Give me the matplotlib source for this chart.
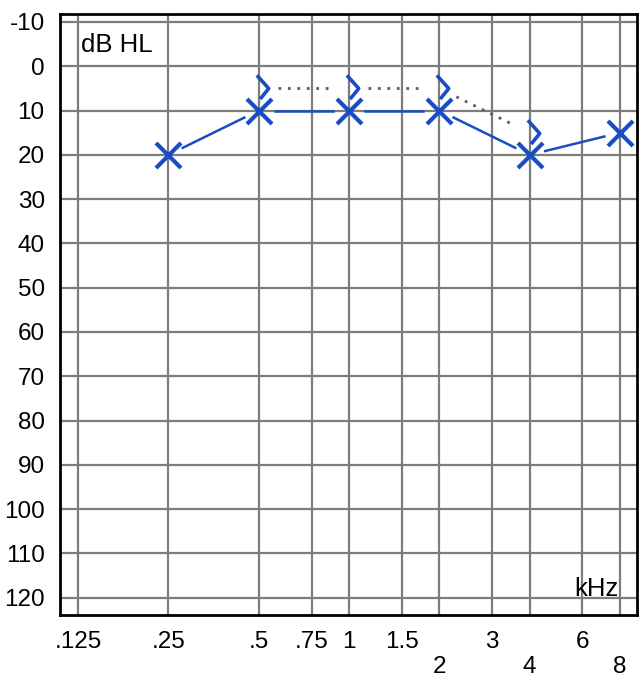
import numpy as np
import matplotlib
matplotlib.use("Agg")
import matplotlib.pyplot as plt
from matplotlib.path import Path

plt.rcParams['font.family'] = ['Liberation Sans', 'DejaVu Sans']

# Data
freq_ticks = [0.125, 0.25, 0.5, 0.75, 1, 1.5, 2, 3, 4, 6, 8]
freq_labels = ['.125', '.25', '.5', '.75', '1', '1.5', '\n2', '3', '\n4', '6', '\n8']
db_ticks = list(range(-10, 121, 10))

air_freq = [0.25, 0.5, 1, 2, 4, 8]
air_db = [20, 10, 10, 10, 20, 15]

bone_freq = [0.5, 1, 2, 4]
bone_db = [5, 5, 5, 15]

BLUE = '#1a4cc4'
GRID = '#7d7d7d'

fig = plt.figure(figsize=(6.41, 6.79), dpi=100)
W, H = 641, 679
left, right, top, bottom = 60, 637, 14, 615
ax = fig.add_axes([left / W, 1 - bottom / H, (right - left) / W, (bottom - top) / H])
ax.set_xscale('log')
ax.set_xlim(0.1088, 9.12)
ax.set_ylim(123.9, -11.8)
ax.set_xticks(freq_ticks)
ax.set_xticklabels(freq_labels, fontsize=17.5, linespacing=1.2)
ax.xaxis.set_minor_locator(matplotlib.ticker.NullLocator())
ax.set_yticks(db_ticks)
ax.set_yticklabels([str(v) for v in db_ticks], fontsize=17.5)
ax.tick_params(axis='both', length=0)
ax.tick_params(axis='x', pad=11.5)
ax.tick_params(axis='y', pad=11)
ax.grid(True, color=GRID, linewidth=1.6)
ax.set_axisbelow(True)
for s in ax.spines.values():
    s.set_linewidth(2)
    s.set_color('black')


def gapped_segments(xs, ys, gap_px, **kw):
    tr = ax.transData
    pts = tr.transform(np.column_stack([xs, ys]))
    for p0, p1 in zip(pts[:-1], pts[1:]):
        d = p1 - p0
        L = np.hypot(*d)
        u = d / L
        a = p0 + u * gap_px
        b = p1 - u * gap_px
        seg = tr.inverted().transform(np.array([a, b]))
        ax.plot(seg[:, 0], seg[:, 1], **kw)


# bone conduction dotted lines
gapped_segments(bone_freq, bone_db, 19, color='#5a5f5a', linestyle=(0, (1, 2.4)),
                linewidth=2.0, zorder=3)
# air conduction solid lines
gapped_segments(air_freq, air_db, 16, color=BLUE, linewidth=1.8, zorder=3)

ax.plot(air_freq, air_db, linestyle='none', marker='x', markersize=18,
        markeredgewidth=3, color=BLUE, zorder=4)

bone_marker = Path([(-0.2, 1.0), (0.7, 0.0), (0.05, -0.8)],
                   [Path.MOVETO, Path.LINETO, Path.LINETO])
ax.plot(bone_freq, bone_db, linestyle='none', marker=bone_marker, markersize=19,
        markeredgewidth=2.6, markerfacecolor='none', markeredgecolor=BLUE, zorder=4)

ax.text(0.036, 0.948, 'dB HL', transform=ax.transAxes, fontsize=18.5,
        ha='left', va='center')
ax.text(0.93, 0.043, 'kHz', transform=ax.transAxes, fontsize=18.5,
        ha='center', va='center')

fig.savefig('out.png', dpi=100)
